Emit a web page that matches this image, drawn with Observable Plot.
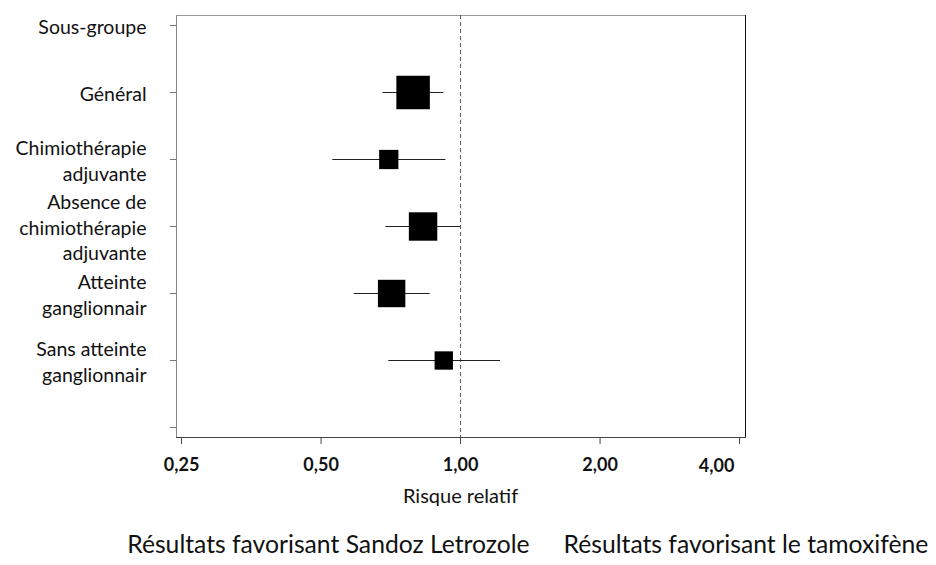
<!DOCTYPE html>
<html><head><meta charset="utf-8">
<script src="https://cdn.jsdelivr.net/npm/d3@7"></script>
<script src="https://cdn.jsdelivr.net/npm/@observablehq/plot@0.6"></script>
<style>body{margin:0;background:#fff;font-family:Lato,sans-serif}</style>
</head><body><div id="chart"></div>
<script>
const subgroups = ["Sous-groupe","Général","Chimiothérapie\nadjuvante","Absence de\nchimiothérapie\nadjuvante","Atteinte\nganglionnair","Sans atteinte\nganglionnair",""];
const estSubgroups = ["Général","Chimiothérapie\nadjuvante","Absence de\nchimiothérapie\nadjuvante","Atteinte\nganglionnair","Sans atteinte\nganglionnair"];
const estimates = [0.79, 0.70, 0.83, 0.71, 0.92];
const lower = [0.68, 0.53, 0.69, 0.59, 0.70];
const upper = [0.92, 0.93, 1.00, 0.86, 1.22];
const weights = [100, 33, 72, 67, 30];
const xTicks = [0.25, 0.5, 1, 2, 4];
const xTickLabels = ["0,25", "0,50", "1,00", "2,00", "4,00"];
const xLabel = "Risque relatif";
const favorLeft = "Résultats favorisant Sandoz Letrozole";
const favorRight = "Résultats favorisant le tamoxifène";
const referenceValue = 1;

const rows = estSubgroups.map((s, i) => ({subgroup: s, est: estimates[i], lo: lower[i], hi: upper[i], w: weights[i]}));
const lastTick = xTicks[xTicks.length - 1];

const chart = Plot.plot({
  width: 936,
  height: 565,
  marginLeft: 176,
  marginRight: 191,
  marginTop: 15,
  marginBottom: 128,
  style: {fontFamily: "Lato, sans-serif", background: "white", color: "#111"},
  x: {type: "log", base: 2, domain: [0.2438, 4.12]},
  y: {type: "point", domain: subgroups, padding: 0.12},
  r: {type: "sqrt", domain: [0, 100], range: [0, 18.9]},
  marks: [
    Plot.frame({anchor: "top", stroke: "#999"}),
    Plot.frame({anchor: "left", stroke: "#888"}),
    Plot.frame({anchor: "right", stroke: "#111"}),
    Plot.frame({anchor: "bottom", stroke: "#444"}),
    Plot.ruleX([referenceValue], {stroke: "#555", strokeDasharray: "4,3"}),
    Plot.axisY({anchor: "left", tickSize: 6, tickPadding: 24, fontSize: 19.5, lineHeight: 1.32, stroke: "#777", fill: "#111", label: null}),
    Plot.axisX({anchor: "bottom", ticks: xTicks, tickFormat: d => d === lastTick ? "" : xTickLabels[xTicks.indexOf(d)], tickSize: 7, tickPadding: 14, fontSize: 18, fontWeight: "bold", stroke: "#444", fill: "#111", label: null}),
    Plot.text([lastTick], {x: d => d, text: d => xTickLabels[xTicks.indexOf(d)], frameAnchor: "bottom", lineAnchor: "middle", dy: 29, dx: -23, fontSize: 18, fontWeight: "bold", fill: "#111"}),
    Plot.ruleY(rows, {y: "subgroup", x1: "lo", x2: "hi", stroke: "#222", strokeWidth: 1}),
    Plot.dot(rows, {x: "est", y: "subgroup", r: "w", symbol: "square", fill: "black", stroke: "none"}),
    Plot.text([xLabel], {x: referenceValue, frameAnchor: "bottom", lineAnchor: "middle", dy: 59, fontSize: 20, fill: "#111"}),
    Plot.text([favorLeft], {x: referenceValue, frameAnchor: "bottom", lineAnchor: "middle", dy: 108, dx: 69, textAnchor: "end", fontSize: 24.7, fill: "#111"}),
    Plot.text([favorRight], {x: referenceValue, frameAnchor: "bottom", lineAnchor: "middle", dy: 108, dx: 103, textAnchor: "start", fontSize: 24.7, fill: "#111"})
  ]
});
document.getElementById("chart").append(chart);
</script>
</body></html>
